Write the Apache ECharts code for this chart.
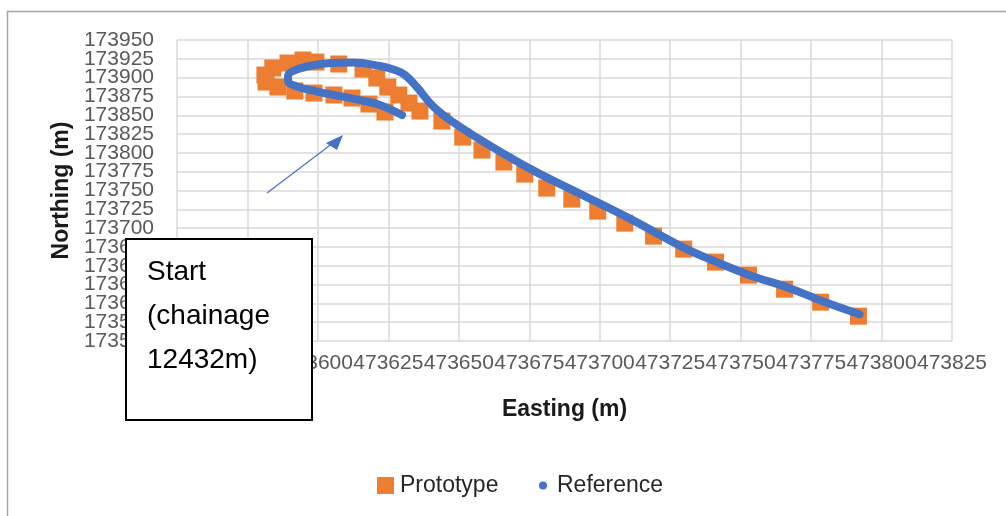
<!DOCTYPE html>
<html><head><meta charset="utf-8">
<script src="https://cdn.jsdelivr.net/npm/echarts@6/dist/echarts.min.js"></script>
<style>html,body{margin:0;padding:0;background:#fff}#c{width:1006px;height:516px}</style>
</head><body><div id="c"></div>
<script>
// Prototype survey points [Easting, Northing]
const prototypeEasting = [473623.8,473618.1,473612.1,473605.7,473598.6,473591.8,473585.8,473581.6,473581.2,473584.0,473589.4,473594.7,473599.3,473607.4,473616.0,473620.9,473624.8,473628.7,473632.3,473636.2,473644.0,473651.4,473658.2,473666.0,473673.4,473681.2,473690.1,473699.3,473708.9,473719.1,473729.8,473741.1,473752.8,473765.6,473778.4,473791.8];
const prototypeNorthing = [173854.3,173864.9,173872.9,173876.9,173879.5,173882.2,173887.5,173894.1,173903.5,173912.8,173919.4,173923.4,173920.7,173918.1,173911.4,173899.5,173887.5,173876.9,173866.2,173855.6,173842.3,173821.0,173803.7,173787.8,173771.8,173753.2,173738.6,173722.6,173706.6,173689.4,173672.1,173654.8,173637.5,173618.9,173601.6,173583.0];
// Reference alignment [Easting, Northing]
const referenceEasting = [473629.8,473622.0,473614.9,473607.8,473599.6,473592.6,473589.4,473589.4,473590.8,473596.1,473604.3,473612.4,473622.0,473627.3,473630.9,473635.1,473640.8,473647.9,473659.6,473676.2,473691.8,473711.7,473729.4,473741.5,473753.2,473767.4,473779.1,473792.2];
const referenceNorthing = [173850.3,173863.6,173870.2,173875.5,173881.5,173888.2,173895.5,173902.1,173908.1,173914.8,173919.4,173920.1,173915.4,173910.1,173903.5,173887.5,173862.2,173841.0,173813.0,173777.1,173747.9,173710.6,173674.7,173654.8,173637.5,173620.2,173602.9,173585.6];
const xAxisRange = [473550, 473825, 25];
const yAxisRange = [173550, 173950, 25];
const seriesNames = ['Prototype', 'Reference'];
const annotationText = 'Start\n(chainage\n12432m)';

const protoData = prototypeEasting.map((x, i) => [x, prototypeNorthing[i]]);
const refData = referenceEasting.map((x, i) => [x, referenceNorthing[i]]);
const FONT = 'Liberation Sans';

const yLabelBase = {fontFamily: FONT, fontSize: 21, color: '#595959', margin: 23, hideOverlap: false};
const chart = echarts.init(document.getElementById('c'), null, {renderer: 'canvas'});
chart.setOption({
  backgroundColor: '#fff',
  animation: false,
  grid: {left: 177, right: 54, top: 40, bottom: 175, containLabel: false, outerBoundsMode: 'none'},
  xAxis: {
    type: 'value', min: xAxisRange[0], max: xAxisRange[1], interval: xAxisRange[2],
    name: 'Easting (m)', nameLocation: 'middle', nameGap: 57,
    nameTextStyle: {fontFamily: FONT, fontSize: 23, fontWeight: 'bold', color: '#1a1a1a'},
    axisLine: {show: false}, axisTick: {show: false},
    axisLabel: {fontFamily: FONT, fontSize: 21, color: '#595959', margin: 12, hideOverlap: false,
      showMinLabel: true, showMaxLabel: true, formatter: v => String(v)},
    splitLine: {show: true, showMinLine: true, showMaxLine: true, lineStyle: {color: '#d9d9d9', width: 1.5}}
  },
  yAxis: [{
    type: 'value', min: yAxisRange[0], max: yAxisRange[1], interval: yAxisRange[2], position: 'left',
    name: 'Northing (m)', nameLocation: 'middle', nameGap: 100, nameRotate: 90,
    nameTextStyle: {fontFamily: FONT, fontSize: 23, fontWeight: 'bold', color: '#1a1a1a'},
    axisLine: {show: false}, axisTick: {show: false},
    axisLabel: Object.assign({showMinLabel: false, showMaxLabel: false, formatter: v => String(v)}, yLabelBase),
    splitLine: {show: true, showMinLine: true, showMaxLine: true, lineStyle: {color: '#d9d9d9', width: 1.5}}
  }, {
    type: 'value', min: yAxisRange[0], max: yAxisRange[1], interval: yAxisRange[2], position: 'left', offset: 0,
    axisLine: {show: false}, axisTick: {show: false}, splitLine: {show: false},
    axisLabel: Object.assign({showMinLabel: true, showMaxLabel: true,
      formatter: v => (v === yAxisRange[0] || v === yAxisRange[1]) ? String(v) : ''}, yLabelBase)
  }],
  legend: [
    {data: [{name: seriesNames[0], icon: 'rect'}], left: 372, top: 469, itemWidth: 17, itemHeight: 17,
     textStyle: {fontFamily: FONT, fontSize: 23, color: '#262626', padding: [0, 0, 0, 1]}},
    {data: [{name: seriesNames[1], icon: 'circle'}], left: 534, top: 469, itemWidth: 8, itemHeight: 8,
     textStyle: {fontFamily: FONT, fontSize: 23, color: '#262626', padding: [0, 0, 0, 5]}}
  ],
  series: [
    {name: seriesNames[0], type: 'scatter', data: protoData, symbol: 'rect', symbolSize: 17,
     itemStyle: {color: '#ED7D31', opacity: 1}, z: 2},
    {name: seriesNames[1], type: 'line', data: refData, showSymbol: false, smooth: 0.4,
     lineStyle: {color: '#4472C4', width: 8, cap: 'round', join: 'round', opacity: 1},
     itemStyle: {color: '#4472C4', opacity: 1}, z: 3}
  ],
  graphic: [
    {type: 'polyline', z: 100, shape: {points: [[7.5, 516], [7.5, 11.5], [1006, 11.5]]},
     style: {stroke: '#a6a6a6', lineWidth: 1.5, fill: null}},
    {type: 'line', z: 100, shape: {x1: 267, y1: 193, x2: 333, y2: 143},
     style: {stroke: '#4472C4', lineWidth: 1.2}},
    {type: 'polygon', z: 100, shape: {points: [[343, 135], [326, 143], [337, 150]]},
     style: {fill: '#4472C4'}},
    {type: 'rect', z: 100, shape: {x: 126, y: 239, width: 186, height: 181},
     style: {fill: '#fff', stroke: '#000', lineWidth: 2}},
    {type: 'text', z: 101, x: 147, y: 250,
     style: {text: annotationText, font: '28px "Liberation Sans"', lineHeight: 44, fill: '#000', verticalAlign: 'top'}}
  ]
});
</script></body></html>
